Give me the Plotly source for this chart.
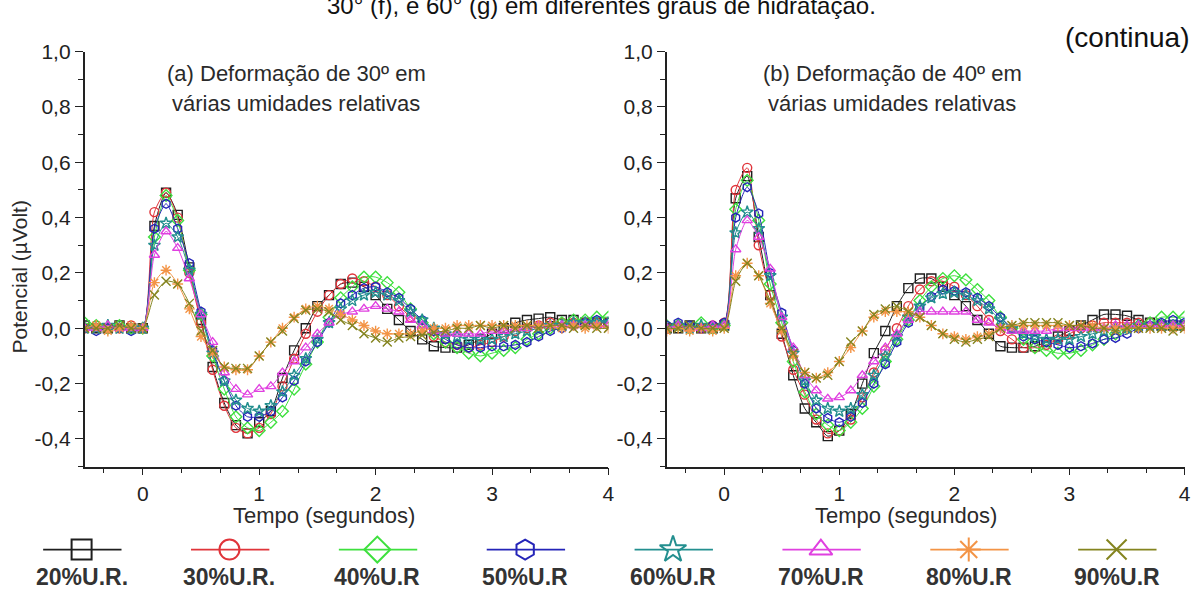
import plotly.graph_objects as go

# ---------------- data ----------------
t = [-0.5, -0.4, -0.3, -0.2, -0.1, 0.0, 0.1, 0.2, 0.3, 0.4, 0.5, 0.6, 0.7, 0.8, 0.9,
     1.0, 1.1, 1.2, 1.3, 1.4, 1.5, 1.6, 1.7, 1.8, 1.9, 2.0, 2.1, 2.2, 2.3, 2.4, 2.5,
     2.6, 2.7, 2.8, 2.9, 3.0, 3.1, 3.2, 3.3, 3.4, 3.5, 3.6, 3.7, 3.8, 3.9, 4.0]

series_names = ["20%U.R.", "30%U.R.", "40%U.R", "50%U.R", "60%U.R", "70%U.R", "80%U.R", "90%U.R"]

# Panel (a): 30 degree deformation
a_20 = [0.01, 0.0, 0.0, 0.01, 0.0, 0.0, 0.37, 0.49, 0.41, 0.22, 0.03, -0.14, -0.27, -0.35, -0.38,
        -0.34, -0.30, -0.18, -0.08, 0.0, 0.08, 0.12, 0.16, 0.165, 0.15, 0.12, 0.07, 0.03, -0.01, -0.04, -0.065,
        -0.07, -0.07, -0.06, -0.04, -0.02, 0.0, 0.02, 0.03, 0.035, 0.04, 0.03, 0.03, 0.02, 0.02, 0.02]
a_30 = [0.0, 0.01, 0.0, 0.0, 0.01, 0.0, 0.42, 0.49, 0.40, 0.20, 0.02, -0.15, -0.28, -0.36, -0.38,
        -0.36, -0.31, -0.21, -0.11, -0.02, 0.06, 0.12, 0.16, 0.18, 0.17, 0.15, 0.12, 0.08, 0.04, 0.0, -0.03,
        -0.05, -0.06, -0.07, -0.06, -0.05, -0.03, -0.01, 0.0, 0.01, 0.02, 0.02, 0.02, 0.02, 0.02, 0.02]
a_40 = [0.02, 0.01, 0.0, 0.01, 0.0, 0.0, 0.33, 0.48, 0.39, 0.21, 0.05, -0.10, -0.22, -0.32, -0.36,
        -0.37, -0.34, -0.30, -0.22, -0.13, -0.05, 0.04, 0.11, 0.15, 0.185, 0.185, 0.165, 0.13, 0.07, 0.02, -0.02,
        -0.05, -0.07, -0.09, -0.10, -0.09, -0.08, -0.07, -0.04, -0.02, 0.0, 0.02, 0.03, 0.03, 0.04, 0.04]
a_50 = [0.0, -0.01, 0.0, 0.0, -0.01, 0.0, 0.36, 0.45, 0.36, 0.235, 0.06, -0.08, -0.19, -0.28, -0.32,
        -0.32, -0.30, -0.25, -0.19, -0.12, -0.05, 0.02, 0.09, 0.12, 0.145, 0.15, 0.13, 0.11, 0.07, 0.03, -0.01,
        -0.04, -0.06, -0.07, -0.07, -0.065, -0.065, -0.06, -0.05, -0.03, -0.01, 0.0, 0.01, 0.02, 0.03, 0.02]
a_60 = [0.0, 0.0, 0.01, 0.0, 0.0, 0.0, 0.30, 0.38, 0.33, 0.21, 0.05, -0.09, -0.19, -0.26, -0.29,
        -0.30, -0.28, -0.23, -0.17, -0.11, -0.04, 0.02, 0.07, 0.10, 0.12, 0.13, 0.12, 0.10, 0.06, 0.03, 0.0,
        -0.02, -0.03, -0.04, -0.04, -0.04, -0.03, -0.02, -0.01, 0.0, 0.01, 0.01, 0.02, 0.02, 0.02, 0.02]
a_70 = [0.0, 0.0, 0.01, 0.0, 0.0, 0.0, 0.265, 0.35, 0.29, 0.18, 0.05, -0.05, -0.16, -0.22, -0.24,
        -0.22, -0.21, -0.16, -0.12, -0.07, -0.02, 0.02, 0.05, 0.06, 0.07, 0.08, 0.07, 0.06, 0.03, 0.01, -0.01,
        -0.02, -0.02, -0.02, -0.02, -0.01, -0.01, 0.0, 0.0, 0.01, 0.01, 0.01, 0.01, 0.01, 0.01, 0.01]
a_80 = [0.0, 0.01, -0.01, 0.0, 0.01, 0.0, 0.165, 0.21, 0.16, 0.07, -0.03, -0.09, -0.14, -0.15, -0.15,
        -0.10, -0.05, 0.0, 0.04, 0.07, 0.08, 0.07, 0.05, 0.03, 0.01, -0.01, -0.02, -0.02, -0.02, -0.01, 0.0,
        0.0, 0.01, 0.01, 0.01, 0.01, 0.01, 0.01, 0.01, 0.01, 0.01, 0.0, 0.01, 0.0, 0.01, 0.0]
a_90 = [0.0, 0.0, 0.0, 0.01, 0.0, 0.0, 0.12, 0.17, 0.16, 0.09, -0.01, -0.08, -0.14, -0.145, -0.145,
        -0.10, -0.05, -0.01, 0.035, 0.065, 0.07, 0.06, 0.03, 0.01, -0.02, -0.035, -0.05, -0.035, -0.03, -0.025, -0.015,
        -0.01, 0.0, 0.0, 0.01, 0.0, 0.01, 0.0, 0.01, 0.0, 0.01, 0.01, 0.0, 0.01, 0.0, 0.0]

# Panel (b): 40 degree deformation
b_20 = [0.0, 0.0, 0.01, 0.0, 0.0, 0.01, 0.47, 0.55, 0.33, 0.12, -0.02, -0.17, -0.29, -0.34, -0.39,
        -0.37, -0.31, -0.20, -0.09, -0.01, 0.08, 0.145, 0.18, 0.18, 0.15, 0.12, 0.08, 0.03, -0.02, -0.065, -0.07,
        -0.07, -0.065, -0.05, -0.03, -0.01, 0.01, 0.03, 0.05, 0.05, 0.045, 0.03, 0.02, 0.01, 0.01, 0.01]
b_30 = [0.0, 0.01, 0.0, 0.0, 0.01, 0.02, 0.50, 0.58, 0.30, 0.12, -0.03, -0.15, -0.24, -0.33, -0.38,
        -0.37, -0.33, -0.25, -0.16, -0.08, 0.0, 0.08, 0.14, 0.17, 0.17, 0.15, 0.12, 0.08, 0.03, -0.01, -0.04,
        -0.07, -0.07, -0.06, -0.04, -0.02, 0.0, 0.01, 0.02, 0.02, 0.02, 0.02, 0.02, 0.01, 0.01, 0.01]
b_40 = [0.01, 0.01, 0.0, 0.02, 0.0, 0.01, 0.43, 0.535, 0.39, 0.16, 0.02, -0.12, -0.23, -0.31, -0.35,
        -0.37, -0.34, -0.29, -0.21, -0.12, -0.04, 0.03, 0.10, 0.15, 0.18, 0.19, 0.175, 0.14, 0.10, 0.04, 0.0,
        -0.04, -0.07, -0.08, -0.09, -0.09, -0.08, -0.06, -0.04, -0.02, 0.0, 0.01, 0.02, 0.04, 0.04, 0.04]
b_50 = [0.01, 0.02, 0.01, 0.0, 0.01, 0.02, 0.40, 0.51, 0.415, 0.20, 0.056, -0.08, -0.20, -0.29, -0.325,
        -0.34, -0.32, -0.27, -0.20, -0.13, -0.05, 0.02, 0.075, 0.115, 0.14, 0.135, 0.13, 0.11, 0.08, 0.04, 0.0,
        -0.03, -0.04, -0.05, -0.06, -0.07, -0.065, -0.055, -0.04, -0.035, -0.02, 0.0, 0.01, 0.02, 0.03, 0.02]
b_60 = [0.0, 0.01, 0.0, 0.01, 0.0, 0.01, 0.345, 0.42, 0.36, 0.19, 0.04, -0.09, -0.19, -0.26, -0.29,
        -0.30, -0.29, -0.24, -0.17, -0.10, -0.03, 0.04, 0.08, 0.11, 0.125, 0.13, 0.12, 0.10, 0.07, 0.03, 0.0,
        -0.02, -0.03, -0.04, -0.04, -0.04, -0.03, -0.02, -0.01, 0.0, 0.0, 0.01, 0.01, 0.01, 0.01, 0.01]
b_70 = [0.0, 0.01, 0.0, 0.0, 0.01, 0.01, 0.285, 0.39, 0.33, 0.215, 0.04, -0.07, -0.17, -0.225, -0.255,
        -0.25, -0.225, -0.17, -0.12, -0.07, -0.02, 0.03, 0.06, 0.06, 0.06, 0.06, 0.06, 0.03, 0.02, 0.0, -0.01,
        -0.01, -0.01, -0.01, 0.0, 0.0, 0.0, 0.0, 0.0, 0.01, 0.01, 0.01, 0.01, 0.01, 0.01, 0.01]
b_80 = [-0.01, 0.0, -0.01, 0.0, -0.01, 0.0, 0.19, 0.235, 0.19, 0.09, -0.01, -0.10, -0.16, -0.18, -0.16,
        -0.12, -0.07, -0.01, 0.04, 0.06, 0.06, 0.06, 0.04, 0.01, -0.02, -0.03, -0.04, -0.03, -0.02, 0.0, 0.01,
        0.01, 0.01, 0.01, 0.01, 0.01, 0.01, 0.01, 0.0, 0.0, 0.0, 0.0, 0.0, 0.0, 0.0, 0.0]
b_90 = [0.0, 0.0, 0.01, 0.0, 0.0, 0.0, 0.17, 0.235, 0.19, 0.10, 0.0, -0.09, -0.16, -0.18, -0.17,
        -0.12, -0.05, -0.01, 0.05, 0.07, 0.08, 0.06, 0.04, 0.01, -0.02, -0.04, -0.05, -0.04, -0.03, 0.0, 0.01,
        0.02, 0.02, 0.02, 0.02, 0.01, 0.01, 0.0, 0.0, -0.01, 0.0, 0.0, 0.0, 0.0, -0.01, 0.0]

panel_a = [a_20, a_30, a_40, a_50, a_60, a_70, a_80, a_90]
panel_b = [b_20, b_30, b_40, b_50, b_60, b_70, b_80, b_90]

x_tickvals = [0, 1, 2, 3, 4]
x_ticktext = ["0", "1", "2", "3", "4"]
y_tickvals = [-0.4, -0.2, 0.0, 0.2, 0.4, 0.6, 0.8, 1.0]
y_ticktext = ["-0,4", "-0,2", "0,0", "0,2", "0,4", "0,6", "0,8", "1,0"]

# ---------------- styles ----------------
colors = ["#1e1e1e", "#e0343a", "#3ee03e", "#2424b8", "#238f8f", "#e040e0", "#f39446", "#84841f"]
symbols = ["square-open", "circle-open", "diamond-open", "hexagon-open",
           "star-open", "triangle-up-open", "asterisk-open", "x-thin-open"]
FONT = "Liberation Sans, Arial, sans-serif"
TXT = "#2a2a2a"

fig = go.Figure()

for panel, xa, ya in [(panel_a, "x", "y"), (panel_b, "x2", "y2")]:
    for i, vals in enumerate(panel):
        fig.add_trace(go.Scatter(
            x=t, y=vals, xaxis=xa, yaxis=ya, mode="lines+markers",
            line=dict(color=colors[i], width=1, shape="spline", smoothing=0.7),
            marker=dict(symbol=symbols[i], size=9, color=colors[i],
                        line=dict(color=colors[i], width=1.4)),
            name=series_names[i], showlegend=False, hoverinfo="skip"))

# custom legend (line - marker - line, label below)
for i, name in enumerate(series_names):
    fig.add_trace(go.Scatter(
        x=[i - 0.26, i + 0.27], y=[0, 0], xaxis="x3", yaxis="y3", mode="lines",
        line=dict(color=colors[i], width=1.8), showlegend=False, hoverinfo="skip"))
    fig.add_trace(go.Scatter(
        x=[i], y=[0], xaxis="x3", yaxis="y3", mode="markers",
        marker=dict(symbol=symbols[i], size=20, color=colors[i],
                    line=dict(color=colors[i], width=2)),
        showlegend=False, hoverinfo="skip"))

axis_common = dict(
    range=[-0.5, 4], showline=True, linecolor="#222", linewidth=1.5,
    ticks="outside", ticklen=7, tickwidth=1.3, tickcolor="#222",
    tickmode="array", tickvals=x_tickvals, ticktext=x_ticktext,
    tickfont=dict(family=FONT, size=21, color="#222"),
    showgrid=False, zeroline=False,
    minor=dict(tickmode="linear", tick0=0, dtick=1 / 3, ticks="outside",
               ticklen=5, tickwidth=1.3, tickcolor="#222", showgrid=False),
)
yaxis_common = dict(
    range=[-0.5, 1.0], showline=True, linecolor="#222", linewidth=1.5,
    ticks="outside", ticklen=8, tickwidth=1.3, tickcolor="#222",
    tickmode="array", tickvals=y_tickvals, ticktext=y_ticktext,
    tickfont=dict(family=FONT, size=21, color="#222"),
    showgrid=False, zeroline=False,
    minor=dict(tickmode="linear", tick0=0, dtick=0.1, ticks="outside",
               ticklen=5, tickwidth=1.3, tickcolor="#222", showgrid=False),
)

W, H = 1201, 590
ydom = [(H - 464) / H, (H - 40.5) / H]

fig.update_layout(
    width=W, height=H, margin=dict(l=0, r=0, t=0, b=0),
    paper_bgcolor="white", plot_bgcolor="white", showlegend=False,
    xaxis=dict(domain=[85 / W, 611.5 / W], anchor="y", **axis_common),
    yaxis=dict(domain=ydom, anchor="x", **yaxis_common),
    xaxis2=dict(domain=[670 / W, 1190.5 / W], anchor="y2", **axis_common),
    yaxis2=dict(domain=ydom, anchor="x2", **yaxis_common),
    xaxis3=dict(domain=[0, 1], anchor="y3", range=[-82 / 148.6, (W - 82) / 148.6], visible=False),
    yaxis3=dict(domain=[0, 0.14], anchor="x3", range=[-1, 1], visible=False),
)

ann = []
def txt(text, x, y, size, xref="paper", yref="paper", xanchor="center", yanchor="middle",
        color=TXT, bold=False, angle=0):
    ann.append(dict(text=("<b>%s</b>" % text) if bold else text, x=x, y=y, xref=xref, yref=yref,
                    xanchor=xanchor, yanchor=yanchor, showarrow=False, textangle=angle,
                    font=dict(family=FONT, size=size, color=color)))

# caption continuing from the previous page (cut at the top edge, as in the source)
txt("30° (f), e 60° (g) em diferentes graus de hidratação.", 605 / W, (H - 9) / H, 24,
    yanchor="bottom", color="#111")
txt("(continua)", 1198 / W, (H - 26) / H, 28, xanchor="right", color="#111")
# panel labels
txt("(a) Deformação de 30º em", 298 / W, (H - 63) / H, 22)
txt("várias umidades relativas", 297 / W, (H - 93) / H, 22)
txt("(b) Deformação de 40º em", 897 / W, (H - 63) / H, 22)
txt("várias umidades relativas", 896 / W, (H - 93) / H, 22)
# axis titles
txt("Tempo (segundos)", 326 / W, (H - 514) / H, 22)
txt("Tempo (segundos)", 911 / W, (H - 514) / H, 22)
txt("Potencial (µVolt)", 20 / W, (H - 270) / H, 21, angle=-90)
# legend labels
for i, name in enumerate(series_names):
    txt(name, i, (H - 577) / H, 23, xref="x3", color="#333", bold=True)

fig.update_layout(annotations=ann)
fig.write_html("out.html")
